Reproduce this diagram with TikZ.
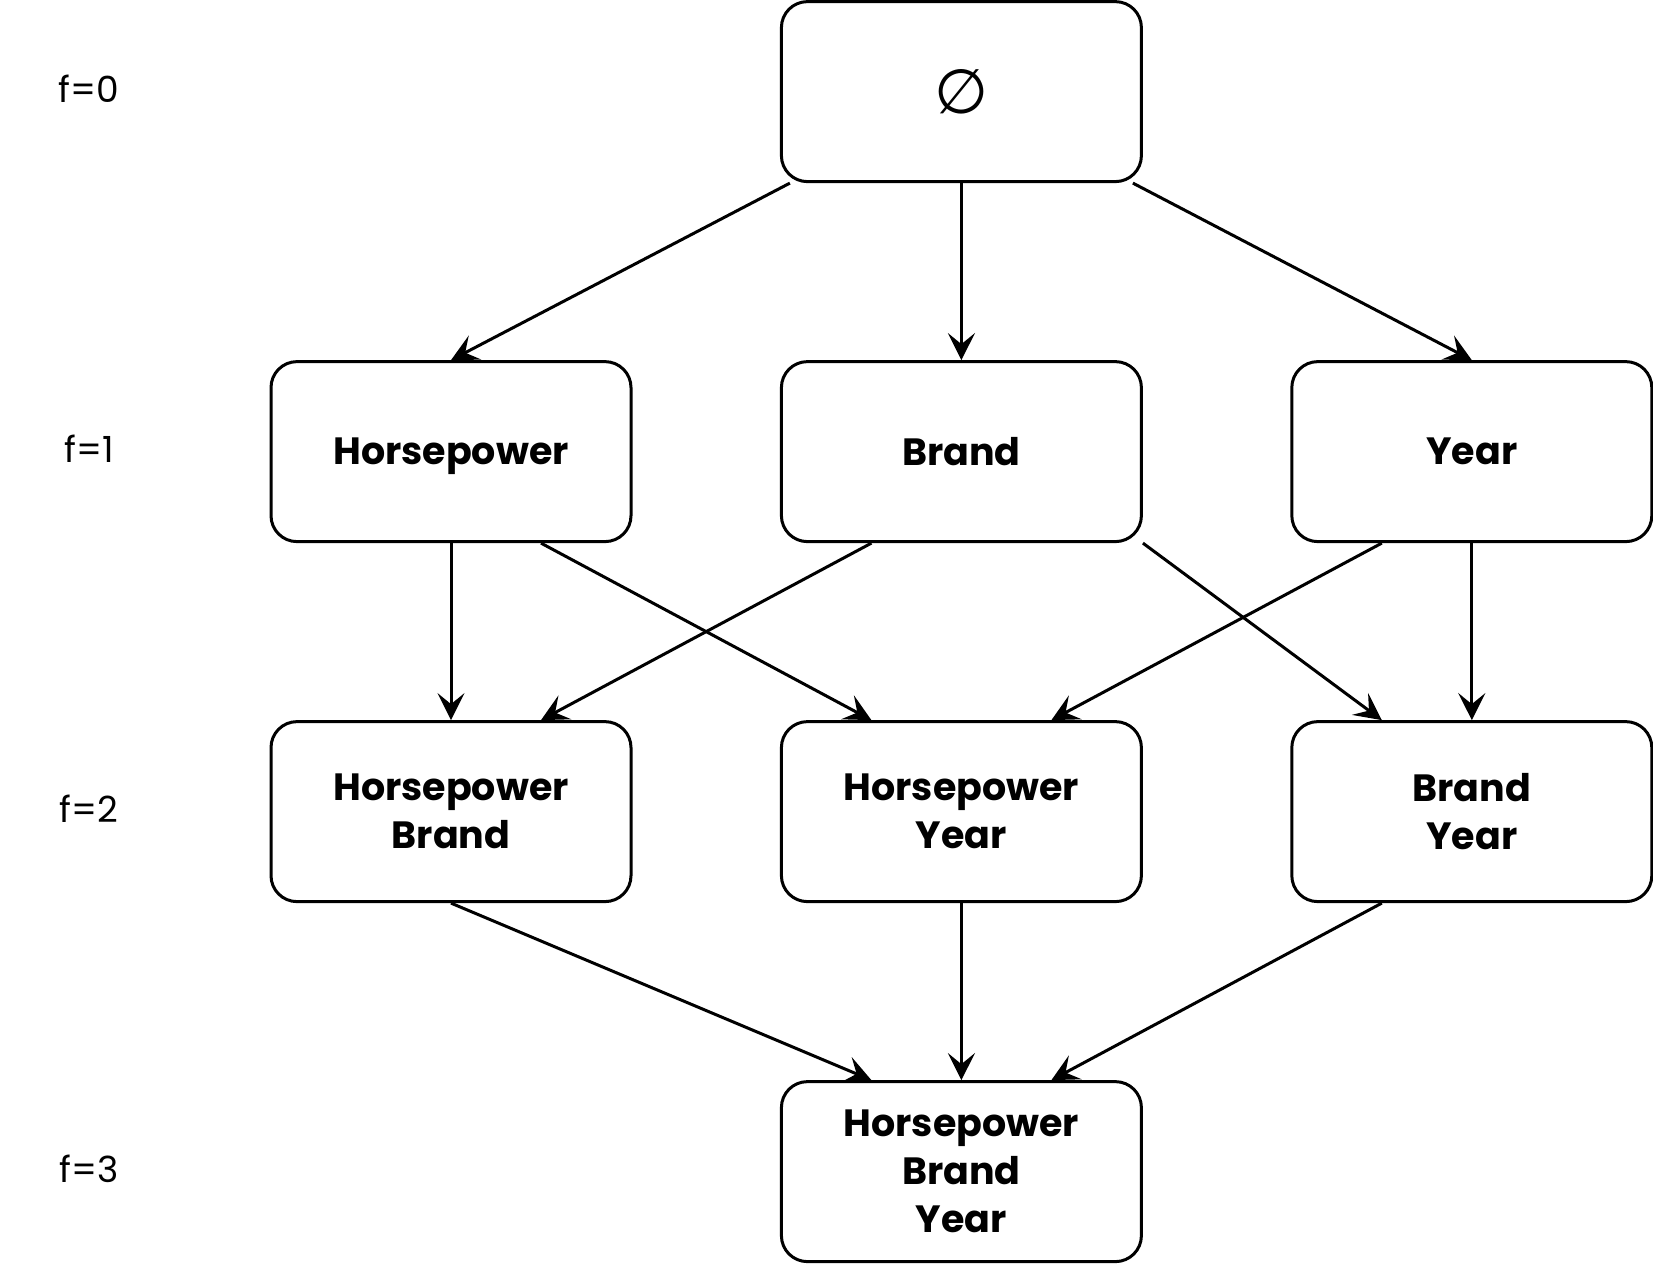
\documentclass[tikz,border=0pt]{standalone}
\usepackage{fontspec}
\setmainfont{Poppins}
\newfontfamily\symfont{DejaVu Sans}
\usetikzlibrary{positioning,arrows.meta}

\begin{document}
\begin{tikzpicture}[>={Stealth[length=13.5pt,width=13.5pt,inset=5.5pt]},line width=1.5pt,node distance=180pt and 255.2pt,on grid,
 set/.style={draw,rounded corners=13pt,minimum width=180pt,minimum height=90pt,align=center,text depth=0pt,font=\fontsize{19pt}{24pt}\selectfont\bfseries},
 level/.style={font=\fontsize{18pt}{22pt}\selectfont}]
\useasboundingbox (0,0) rectangle (826.5pt,-633pt);
\node[set,font=\fontsize{31pt}{36pt}\selectfont\symfont] (root) at (480.7pt,-45.8pt) {∅};
\node[set] (brand) [below=of root] {Brand}; \node[set] (hp) [left=of brand] {Horsepower}; \node[set] (year) [right=of brand] {Year};
\node[set] (hy) [below=of brand] {Horsepower\\Year}; \node[set] (hb) [left=of hy] {Horsepower\\Brand}; \node[set] (by) [right=of hy] {Brand\\Year};
\node[set] (hby) [below=of hy] {Horsepower\\Brand\\Year};
\node[level] (f1) [left=181pt of hp,yshift=1.5pt] {f=1}; \node[level] (f0) [above=of f1] {f=0};
\node[level] (f2) [below=of f1] {f=2}; \node[level] (f3) [below=of f2] {f=3};
\path[->] ([xshift=5pt]root.south west) edge (hp.north) (root.south) edge (brand.north) ([xshift=-5pt]root.south east) edge (year.north)
 (hp.south) edge (hb.north) ([xshift=45pt]hp.south) edge ([xshift=-45pt]hy.north)
 ([xshift=-45pt]brand.south) edge ([xshift=45pt]hb.north) (brand.south east) edge ([xshift=-45pt]by.north)
 ([xshift=-45pt]year.south) edge ([xshift=45pt]hy.north) (year.south) edge (by.north)
 (hb.south) edge ([xshift=-45pt]hby.north) (hy.south) edge (hby.north) ([xshift=-45pt]by.south) edge ([xshift=45pt]hby.north);
\end{tikzpicture}
\end{document}
